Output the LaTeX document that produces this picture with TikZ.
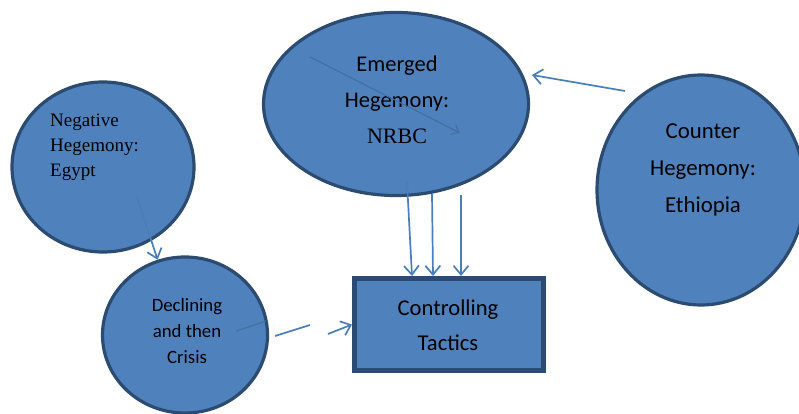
\documentclass[tikz,border=0pt]{standalone}
\usepackage{fontspec}
\setmainfont{Liberation Serif}
\newfontfamily\calfont{Carlito}
\newfontfamily\timesfont{Liberation Serif}
\usetikzlibrary{shapes.geometric,arrows.meta}
\definecolor{bfill}{HTML}{4F81BD}
\definecolor{bedge}{HTML}{2C4B70}
\definecolor{barrow}{HTML}{4A7EBB}
\definecolor{faint}{HTML}{41719F}
\tikzset{
  blob/.style={ellipse, draw=bedge, fill=bfill, line width=3.2pt, inner sep=0pt},
  boxy/.style={rectangle, draw=bedge, fill=bfill, line width=5pt, inner sep=0pt},
  conn/.style={draw=barrow, line width=1.7pt, -{Straight Barb[length=9pt,width=15pt,line width=1.7pt]}},
  plain/.style={draw=barrow, line width=1.7pt},
  stray/.style={draw=faint, line width=1.1pt},
  strayarr/.style={stray, -{Straight Barb[length=7pt,width=11pt,line width=1.1pt]}},
  lbl/.style={text=black, inner sep=0pt, align=center}
}
\begin{document}
\begin{tikzpicture}[x=1pt,y=-1pt]
\useasboundingbox (0,0) rectangle (799,414);
% shapes
\node[blob, minimum width=265pt, minimum height=183pt] (emerged) at (396,104) {};
\node[blob, minimum width=182pt, minimum height=170pt] (negative) at (103,167) {};
\node[blob, minimum width=165pt, minimum height=156pt] (declining) at (185,335) {};
\node[blob, minimum width=208pt, minimum height=230pt] (counter) at (701,190) {};
\node[boxy, minimum width=189pt, minimum height=92pt] (ctrl) at (449,324.5) {};
% texts
\node[lbl, font=\calfont\fontsize{22.5}{36}\selectfont] (temerged) at (397,100) {Emerged\\Hegemony:\\{\timesfont\fontsize{22}{36}\selectfont NRBC}};
\node[lbl, font=\timesfont\fontsize{19}{25}\selectfont, align=left, anchor=west] (tnegative) at (50,147) {Negative\\Hegemony:\\Egypt};
\node[lbl, font=\calfont\fontsize{18.8}{26}\selectfont] (tdeclining) at (187,331) {Declining\\and then\\Crisis};
\node[lbl, font=\calfont\fontsize{22.8}{37}\selectfont] (tcounter) at (703,170) {Counter\\Hegemony:\\Ethiopia};
\node[lbl, font=\calfont\fontsize{22.6}{35}\selectfont] (tctrl) at (448,325) {Controlling\\Tactics};
% stray marks inside shapes
\coordinate (s1) at (310,57);
\coordinate (s2) at (460,133);
\draw[strayarr] (s1) -- (s2);
\coordinate (d1) at (236,331);
\coordinate (d2) at (266,321);
\draw[stray] (d1) -- (d2);
% connectors
\coordinate (a1s) at (407,182);
\coordinate (a2s) at (432,194);
\coordinate (a3s) at (461,195);
\draw[conn] (a1s) -- ([xshift=-37pt]ctrl.north);
\draw[conn] (a2s) -- ([xshift=-16pt]ctrl.north);
\draw[conn] (a3s) -- ([xshift=12pt]ctrl.north);
\coordinate (n1) at (137,197);
\draw[conn] (n1) -- (declining.110);
\coordinate (c1) at (625,91);
\coordinate (c2) at (532,75);
\draw[conn] (c1) -- (c2);
\coordinate (g1) at (275,336);
\coordinate (g2) at (310,325);
\draw[plain] (g1) -- (g2);
\coordinate (g3) at (328,334);
\draw[conn] (g3) -- (ctrl.west);
\end{tikzpicture}
\end{document}
